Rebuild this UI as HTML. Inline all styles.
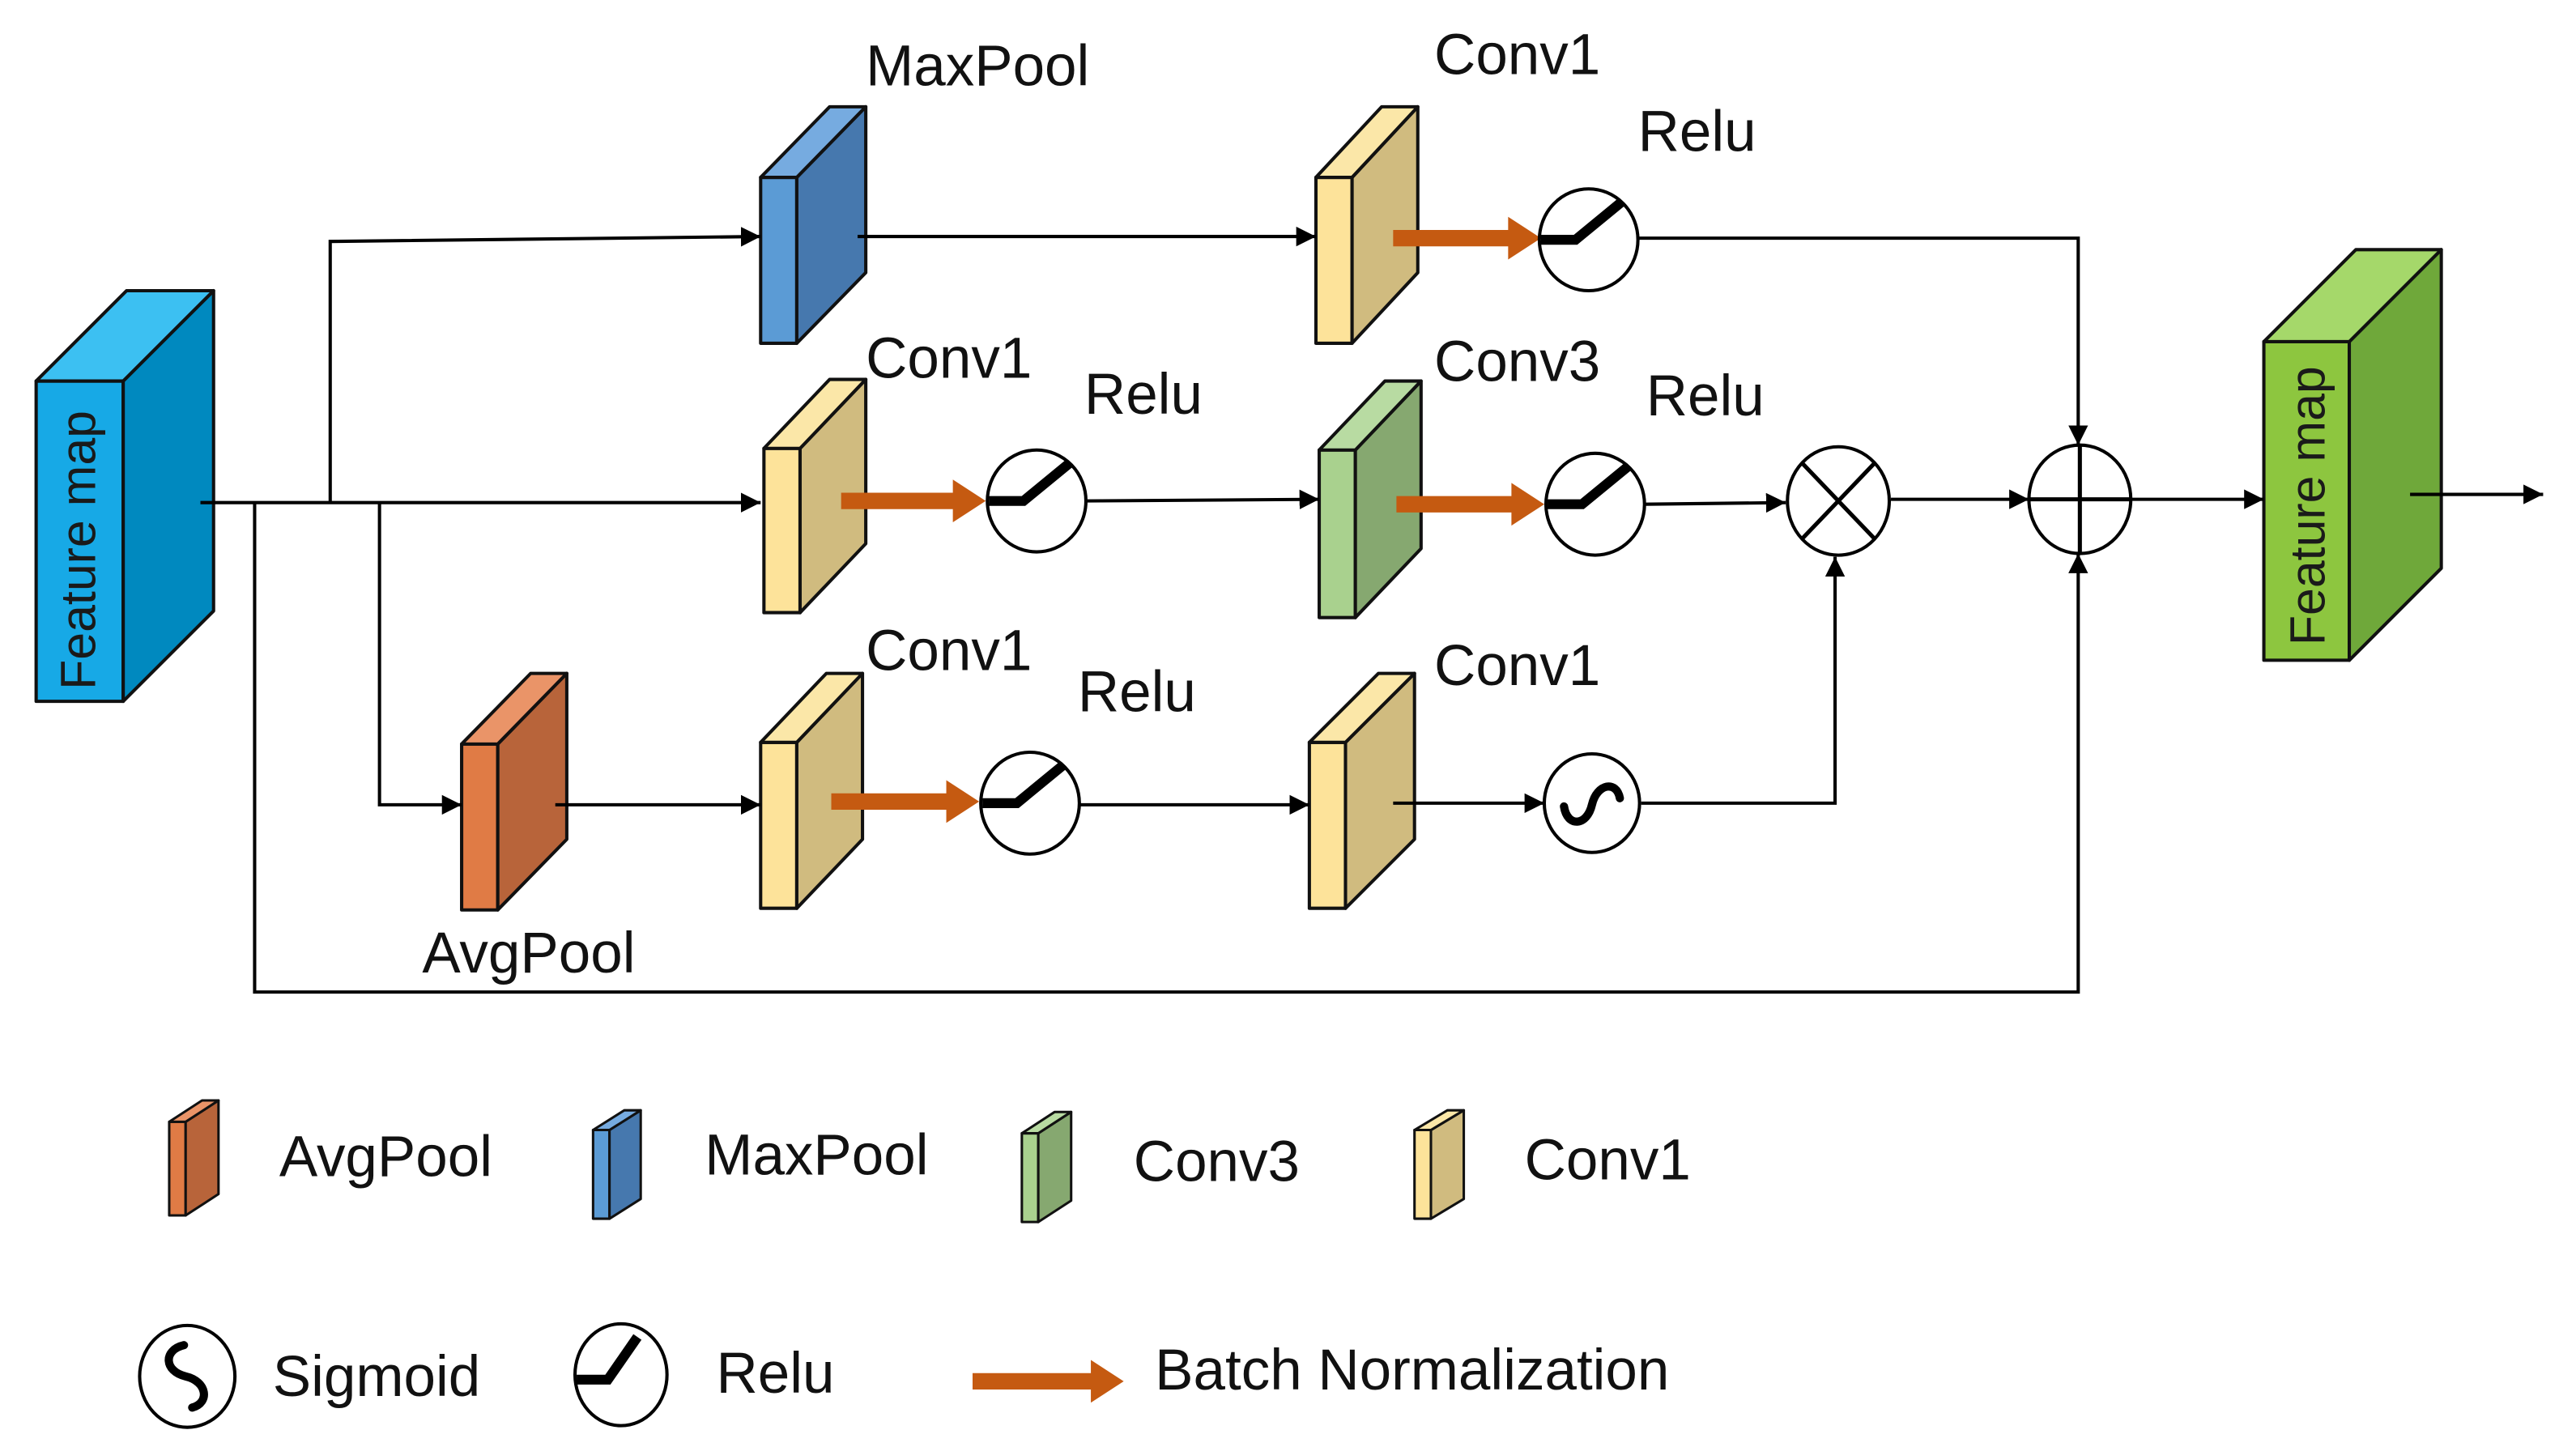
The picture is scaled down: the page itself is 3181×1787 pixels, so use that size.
<!DOCTYPE html>
<html><head><meta charset="utf-8"><style>
html,body{margin:0;padding:0;background:#fff}
svg{display:block}
text{font-family:"Liberation Sans",sans-serif;fill:#111}
</style></head><body>
<svg width="3181" height="1787" viewBox="0 0 1568 881" preserveAspectRatio="none" xmlns="http://www.w3.org/2000/svg">
<defs>
<marker id="ah" viewBox="0 0 10 10" refX="10" refY="5" markerWidth="12" markerHeight="12" markerUnits="userSpaceOnUse" orient="auto"><path d="M0,0 L10,5 L0,10 z" fill="#000"/></marker>
<g id="relu"><path d="M-29,0 L-8,0 L20,-23" fill="none" stroke="#000" stroke-width="6"/></g>
<g id="sig"><path d="M-17,2 C-15,15 -3,14 0,1 C3,-12 15,-14 17,-3" fill="none" stroke="#000" stroke-width="5" stroke-linecap="round"/></g>
</defs>
<g stroke="#111" stroke-width="2" stroke-linejoin="round">
<rect x="22" y="232" width="53" height="195" fill="#17a9e6"/>
<polygon points="75,232 130,177 130,372 75,427" fill="#0089bf"/>
<polygon points="22,232 77,177 130,177 75,232" fill="#3cc0f2"/>
<rect x="1378" y="208" width="52" height="194" fill="#8dc63f"/>
<polygon points="1430,208 1486,152 1486,346 1430,402" fill="#6fa83a"/>
<polygon points="1378,208 1434,152 1486,152 1430,208" fill="#a5d86a"/>
<rect x="463" y="108" width="22" height="101" fill="#5b9bd5"/>
<polygon points="485,108 527,65 527,166 485,209" fill="#4678ae"/>
<polygon points="463,108 505,65 527,65 485,108" fill="#76abe0"/>
<rect x="801" y="108" width="22" height="101" fill="#fde39a"/>
<polygon points="823,108 863,65 863,166 823,209" fill="#d0bb7f"/>
<polygon points="801,108 841,65 863,65 823,108" fill="#fbe7a8"/>
<rect x="465" y="273" width="22" height="100" fill="#fde39a"/>
<polygon points="487,273 527,231 527,331 487,373" fill="#d0bb7f"/>
<polygon points="465,273 505,231 527,231 487,273" fill="#fbe7a8"/>
<rect x="803" y="274" width="22" height="102" fill="#a9d18e"/>
<polygon points="825,274 865,232 865,334 825,376" fill="#86a870"/>
<polygon points="803,274 843,232 865,232 825,274" fill="#b8dba2"/>
<rect x="281" y="453" width="22" height="101" fill="#e07b45"/>
<polygon points="303,453 345,410 345,511 303,554" fill="#b8643a"/>
<polygon points="281,453 323,410 345,410 303,453" fill="#ea9468"/>
<rect x="463" y="452" width="22" height="101" fill="#fde39a"/>
<polygon points="485,452 525,410 525,511 485,553" fill="#d0bb7f"/>
<polygon points="463,452 503,410 525,410 485,452" fill="#fbe7a8"/>
<rect x="797" y="452" width="22" height="101" fill="#fde39a"/>
<polygon points="819,452 861,410 861,511 819,553" fill="#d0bb7f"/>
<polygon points="797,452 839,410 861,410 819,452" fill="#fbe7a8"/>
<rect x="103" y="683" width="10" height="57" fill="#e07b45" stroke-width="1.5"/>
<polygon points="113,683 133,670 133,727 113,740" fill="#b8643a" stroke-width="1.5"/>
<polygon points="103,683 123,670 133,670 113,683" fill="#ea9468" stroke-width="1.5"/>
<rect x="361" y="688" width="10" height="54" fill="#5b9bd5" stroke-width="1.5"/>
<polygon points="371,688 390,676 390,730 371,742" fill="#4678ae" stroke-width="1.5"/>
<polygon points="361,688 380,676 390,676 371,688" fill="#76abe0" stroke-width="1.5"/>
<rect x="622" y="690" width="10" height="54" fill="#a9d18e" stroke-width="1.5"/>
<polygon points="632,690 652,677 652,731 632,744" fill="#86a870" stroke-width="1.5"/>
<polygon points="622,690 642,677 652,677 632,690" fill="#b8dba2" stroke-width="1.5"/>
<rect x="861" y="688" width="10" height="54" fill="#fde39a" stroke-width="1.5"/>
<polygon points="871,688 891,676 891,730 871,742" fill="#d0bb7f" stroke-width="1.5"/>
<polygon points="861,688 881,676 891,676 871,688" fill="#fbe7a8" stroke-width="1.5"/>
</g>

<g stroke="#000" stroke-width="2" fill="none">
<line x1="122" y1="306" x2="463" y2="306" marker-end="url(#ah)"/>
<polyline points="201,306 201,147 463,144" marker-end="url(#ah)"/>
<polyline points="231,306 231,490 281,490" marker-end="url(#ah)"/>
<polyline points="155,306 155,604 1265,604 1265,337" marker-end="url(#ah)"/>
<line x1="522" y1="144" x2="801" y2="144" marker-end="url(#ah)"/>
<polyline points="997,145 1265,145 1265,271" marker-end="url(#ah)"/>
<line x1="661" y1="305" x2="803" y2="304" marker-end="url(#ah)"/>
<line x1="1001" y1="307" x2="1087" y2="306" marker-end="url(#ah)"/>
<line x1="1151" y1="304" x2="1235" y2="304" marker-end="url(#ah)"/>
<line x1="1297" y1="304" x2="1378" y2="304" marker-end="url(#ah)"/>
<line x1="1467" y1="301" x2="1548" y2="301" marker-end="url(#ah)"/>
<line x1="338" y1="490" x2="463" y2="490" marker-end="url(#ah)"/>
<line x1="657" y1="490" x2="797" y2="490" marker-end="url(#ah)"/>
<line x1="848" y1="489" x2="940" y2="489" marker-end="url(#ah)"/>
<polyline points="999,489 1117,489 1117,339" marker-end="url(#ah)"/>
</g>

<g fill="#c55a11">
<path d="M848,140 h70 v-8 l20,13 l-20,13 v-8 h-70 z"/>
<path d="M512,300 h68 v-8 l20,13 l-20,13 v-8 h-68 z"/>
<path d="M850,302 h70 v-8 l20,13 l-20,13 v-8 h-70 z"/>
<path d="M506,483 h70 v-8 l20,13 l-20,13 v-8 h-70 z"/>
<path d="M592,836 h72 v-8 l20,13 l-20,13 v-8 h-72 z"/>
</g>

<g stroke="#000" stroke-width="2" fill="#fff">
<ellipse cx="967" cy="146" rx="30" ry="31"/>
<ellipse cx="631" cy="305" rx="30" ry="31"/>
<ellipse cx="971" cy="307" rx="30" ry="31"/>
<ellipse cx="627" cy="489" rx="30" ry="31"/>
<ellipse cx="969" cy="489" rx="29" ry="30"/>
<ellipse cx="1119" cy="305" rx="31" ry="33"/>
<ellipse cx="1266" cy="304" rx="31" ry="33"/>
<ellipse cx="114" cy="838" rx="29" ry="31"/>
<ellipse cx="378" cy="837" rx="28" ry="31"/>
</g>
<g stroke="#000" stroke-width="2.5">
<line x1="1097" y1="282" x2="1141" y2="328"/><line x1="1141" y1="282" x2="1097" y2="328"/>
<line x1="1235" y1="304" x2="1297" y2="304"/><line x1="1266" y1="271" x2="1266" y2="337"/>
</g>
<use href="#relu" x="967" y="146"/>
<use href="#relu" x="631" y="305"/>
<use href="#relu" x="971" y="307"/>
<use href="#relu" x="627" y="489"/>
<use href="#sig" x="969" y="489"/>
<g transform="translate(378,837)"><path d="M-27,3 L-8,3 L10,-23" fill="none" stroke="#000" stroke-width="6"/></g>
<g transform="translate(114,838) rotate(90)"><path d="M-19,2 C-16,15 -3,14 0,1 C3,-12 16,-14 19,-3" fill="none" stroke="#000" stroke-width="5" stroke-linecap="round"/></g>

<g font-size="35">
<text x="527" y="52">MaxPool</text>
<text x="873" y="45">Conv1</text>
<text x="997" y="92">Relu</text>
<text x="527" y="230">Conv1</text>
<text x="660" y="252">Relu</text>
<text x="873" y="232">Conv3</text>
<text x="1002" y="253">Relu</text>
<text x="527" y="408">Conv1</text>
<text x="656" y="433">Relu</text>
<text x="873" y="417">Conv1</text>
<text x="257" y="592">AvgPool</text>
<text x="170" y="716">AvgPool</text>
<text x="429" y="715">MaxPool</text>
<text x="690" y="719">Conv3</text>
<text x="928" y="718">Conv1</text>
<text x="166" y="850">Sigmoid</text>
<text x="436" y="848">Relu</text>
<text x="703" y="846">Batch Normalization</text>
</g>
<text font-size="30" transform="translate(58,420) rotate(-90)" style="fill:#1a1a1a">Feature map</text>
<text font-size="30" transform="translate(1415,393) rotate(-90)" style="fill:#1a1a1a">Feature map</text>
</svg>
</body></html>
